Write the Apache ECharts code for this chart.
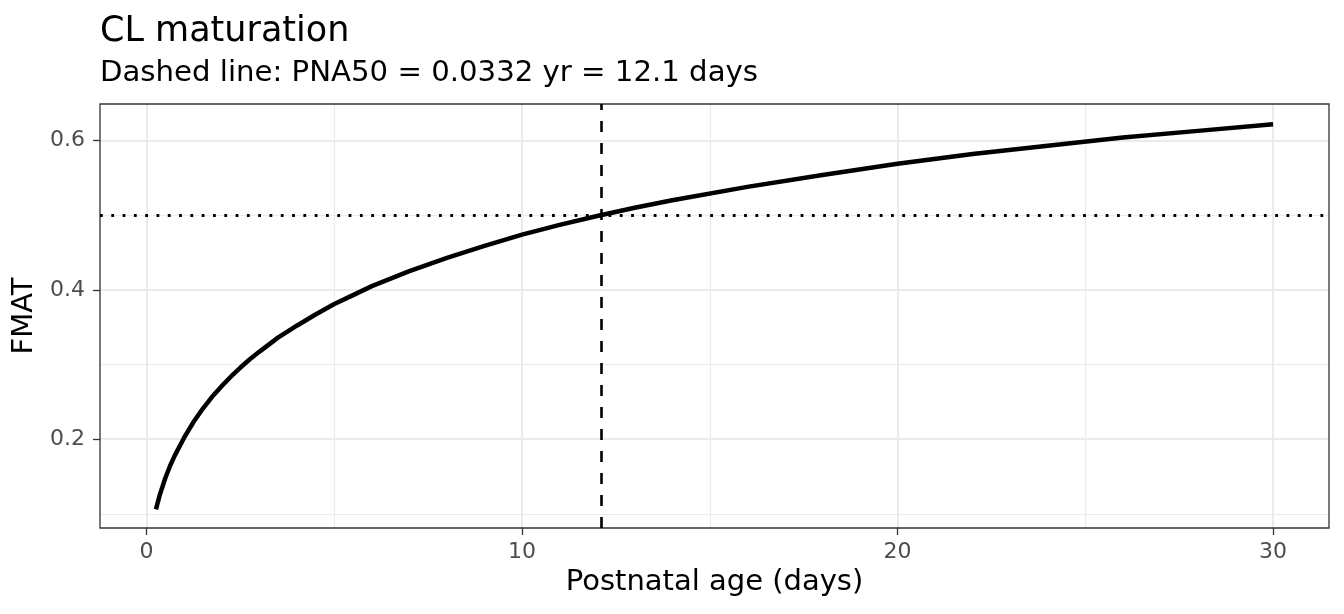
<!DOCTYPE html>
<html>
<head>
<meta charset="utf-8">
<script src="https://cdn.jsdelivr.net/npm/echarts@6/dist/echarts.min.js"></script>
<style>
html, body { margin: 0; padding: 0; background: #fff; }
#chart { width: 1344px; height: 614px; }
</style>
</head>
<body>
<div id="chart"></div>
<script>
// postnatal age (days) and maturation fraction
var pna = [0.25, 0.35, 0.5, 0.625, 0.75, 1, 1.25, 1.5, 1.75, 2, 2.25, 2.5, 2.75, 3, 3.5, 4, 4.5, 5, 5.5, 6, 7, 8, 9, 10, 11, 12, 13, 14, 16, 18, 20, 22, 24, 26, 28, 30];
var fmat = [0.106, 0.125, 0.148, 0.164, 0.178, 0.202, 0.223, 0.241, 0.257, 0.271, 0.284, 0.296, 0.307, 0.317, 0.336, 0.352, 0.367, 0.381, 0.393, 0.405, 0.425, 0.443, 0.459, 0.474, 0.487, 0.499, 0.510, 0.520, 0.538, 0.554, 0.569, 0.582, 0.593, 0.604, 0.613, 0.622];

var pna50 = 12.1;
var halfLevel = 0.5;

var xMajor = [0, 10, 20, 30];
var xMinor = [5, 15, 25];
var yMajor = [0.2, 0.4, 0.6];
var yMinor = [0.1, 0.3, 0.5];

var font = 'DejaVu Sans';

var gridLines = [];
xMajor.forEach(function(v) {
	gridLines.push({ xAxis: v, lineStyle: { color: '#ebebeb', width: 2, type: 'solid' } });
});
xMinor.forEach(function(v) {
	gridLines.push({ xAxis: v, lineStyle: { color: '#ebebeb', width: 1.2, type: 'solid' } });
});
yMajor.forEach(function(v) {
	gridLines.push({ yAxis: v, lineStyle: { color: '#ebebeb', width: 2, type: 'solid' } });
});
yMinor.forEach(function(v) {
	gridLines.push({ yAxis: v, lineStyle: { color: '#ebebeb', width: 1.2, type: 'solid' } });
});

var points = pna.map(function(x, i) { return [x, fmat[i]]; });

var chart = echarts.init(document.getElementById('chart'));
chart.setOption({
	animation: false,
	backgroundColor: '#fff',
	graphic: [{
		type: 'text',
		left: 100,
		top: 14,
		style: { text: 'CL maturation', font: '35px "' + font + '"', fill: '#000' }
	}, {
		type: 'text',
		left: 100,
		top: 59,
		style: { text: 'Dashed line: PNA50 = 0.0332 yr = 12.1 days', font: '29.2px "' + font + '"', fill: '#000' }
	}],
	grid: {
		left: 100,
		right: 15,
		top: 104,
		bottom: 86,
		show: true,
		borderColor: '#333',
		borderWidth: 1.3,
		z: 5
	},
	xAxis: {
		type: 'value',
		min: -1.24,
		max: 31.49,
		name: 'Postnatal age (days)',
		nameLocation: 'middle',
		nameGap: 38,
		nameTextStyle: { color: '#000', fontSize: 29, fontFamily: font },
		axisLine: { show: false, onZero: false },
		axisTick: { show: true, length: 7, customValues: xMajor, lineStyle: { color: '#333', width: 1.3 } },
		axisLabel: { customValues: xMajor, color: '#4d4d4d', fontSize: 22, fontFamily: font, margin: 13 },
		splitLine: { show: false }
	},
	yAxis: {
		type: 'value',
		min: 0.081,
		max: 0.649,
		name: 'FMAT',
		nameLocation: 'middle',
		nameGap: 49,
		nameTextStyle: { color: '#000', fontSize: 29, fontFamily: font },
		axisLine: { show: false, onZero: false },
		axisTick: { show: true, length: 7, customValues: yMajor, lineStyle: { color: '#333', width: 1.3 } },
		axisLabel: {
			customValues: yMajor,
			color: '#4d4d4d',
			fontSize: 22,
			fontFamily: font,
			margin: 15,
			formatter: function(v) { return v.toFixed(1); }
		},
		splitLine: { show: false }
	},
	series: [{
		// panel grid lines, kept under everything else
		type: 'line',
		z: 1,
		silent: true,
		data: points,
		showSymbol: false,
		lineStyle: { opacity: 0 },
		markLine: {
			z: 1,
			silent: true,
			symbol: 'none',
			label: { show: false },
			data: gridLines
		}
	}, {
		type: 'line',
		z: 10,
		data: points,
		showSymbol: false,
		lineStyle: { color: '#000', width: 4.5, join: 'round' },
		markLine: {
			z: 11,
			silent: true,
			symbol: 'none',
			label: { show: false },
			data: [{
				xAxis: pna50,
				lineStyle: { color: '#000', width: 2.6, type: [11, 11] }
			}, {
				yAxis: halfLevel,
				lineStyle: { color: '#000', width: 2.8, type: [2.8, 8.5] }
			}]
		}
	}]
});
</script>
</body>
</html>
